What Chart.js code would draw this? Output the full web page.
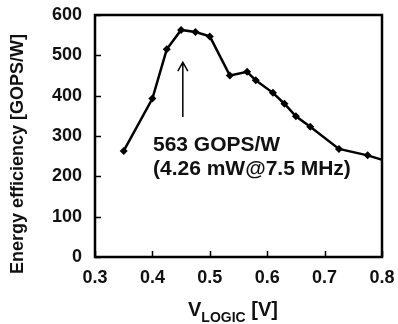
<!DOCTYPE html>
<html>
<head>
<meta charset="utf-8">
<script src="https://cdn.jsdelivr.net/npm/chart.js@4/dist/chart.umd.min.js"></script>
<style>
  html, body { margin: 0; padding: 0; background: #fff; }
  #wrap { width: 398px; height: 324px; }
</style>
</head>
<body>
<div id="wrap"><canvas id="effChart" width="398" height="324"></canvas></div>
<script>
// V_LOGIC sweep (V) and measured energy efficiency (GOPS/W)
const vLogic = [0.35, 0.40, 0.425, 0.45, 0.475, 0.50, 0.535, 0.565, 0.58, 0.61, 0.63, 0.65, 0.675, 0.725, 0.775, 0.83];
const efficiency = [263, 393, 515, 563, 558, 547, 450, 459, 438, 407, 380, 349, 323, 268, 252, 228];
const xTicks = [0.3, 0.4, 0.5, 0.6, 0.7, 0.8];
const yTicks = [0, 100, 200, 300, 400, 500, 600];
const noteLines = ['563 GOPS/W', '(4.26 mW@7.5 MHz)'];

const FONT = '"Liberation Sans", Arial, sans-serif';

const decorations = {
  id: 'decorations',
  afterDraw(chart) {
    const { ctx, chartArea: a, scales: { x, y } } = chart;
    ctx.save();
    ctx.strokeStyle = '#000';
    ctx.fillStyle = '#111';

    // inward tick marks
    ctx.lineWidth = 1.5;
    ctx.beginPath();
    xTicks.forEach(v => {
      const px = Math.round(x.getPixelForValue(v)) + 0.5;
      ctx.moveTo(px, a.bottom); ctx.lineTo(px, a.bottom - 6);
    });
    yTicks.forEach(v => {
      const py = Math.round(y.getPixelForValue(v)) + 0.5;
      ctx.moveTo(a.left, py); ctx.lineTo(a.left + 6, py);
    });
    ctx.stroke();

    // plot frame
    ctx.lineWidth = 2.5;
    ctx.strokeRect(a.left, a.top, a.right - a.left, a.bottom - a.top);

    // arrow pointing at the peak
    const ax = x.getPixelForValue(0.453);
    const ay0 = y.getPixelForValue(347);
    const ay1 = y.getPixelForValue(483);
    ctx.lineWidth = 1.5;
    ctx.beginPath();
    ctx.moveTo(ax, ay0); ctx.lineTo(ax, ay1);
    ctx.moveTo(ax - 5, ay1 + 9); ctx.lineTo(ax, ay1); ctx.lineTo(ax + 5, ay1 + 9);
    ctx.stroke();

    // annotation text
    ctx.font = 'bold 21px ' + FONT;
    ctx.textAlign = 'left';
    ctx.textBaseline = 'alphabetic';
    const tx = x.getPixelForValue(0.401);
    ctx.fillText(noteLines[0], tx, y.getPixelForValue(263));
    ctx.fillText(noteLines[1], tx, y.getPixelForValue(203));

    // y axis title
    ctx.save();
    ctx.translate(18, 154);
    ctx.rotate(-Math.PI / 2);
    ctx.textAlign = 'center';
    ctx.textBaseline = 'middle';
    ctx.font = 'bold 18px ' + FONT;
    ctx.fillText('Energy efficiency [GOPS/W]', 0, 0);
    ctx.restore();

    // x axis title with subscript
    const base = 316;
    ctx.textAlign = 'left';
    let cx = 188;
    ctx.font = 'bold 20px ' + FONT;
    ctx.fillText('V', cx, base);
    cx += ctx.measureText('V').width;
    ctx.font = 'bold 14px ' + FONT;
    ctx.fillText('LOGIC', cx, base + 6);
    cx += ctx.measureText('LOGIC').width;
    ctx.font = 'bold 20px ' + FONT;
    ctx.fillText(' [V]', cx, base);
    ctx.restore();
  }
};

new Chart(document.getElementById('effChart'), {
  type: 'line',
  data: {
    datasets: [{
      data: vLogic.map((v, i) => ({ x: v, y: efficiency[i] })),
      borderColor: '#000',
      backgroundColor: '#000',
      borderWidth: 2.5,
      pointStyle: 'rectRot',
      pointRadius: 4,
      pointBorderWidth: 0,
      tension: 0,
      fill: false
    }]
  },
  options: {
    responsive: false,
    animation: false,
    devicePixelRatio: 1,
    layout: { padding: { top: 15, right: 16, left: 0, bottom: 0 } },
    plugins: {
      legend: { display: false },
      tooltip: { enabled: false },
      title: { display: false }
    },
    scales: {
      x: {
        type: 'linear',
        min: 0.3,
        max: 0.8,
        border: { display: false },
        grid: { display: false, drawTicks: false },
        afterFit(scale) {
          scale.height = 67;
          scale.paddingLeft = 0;
          scale.paddingRight = 0;
        },
        afterBuildTicks(scale) { scale.ticks = xTicks.map(v => ({ value: v })); },
        ticks: {
          padding: 10,
          color: '#111',
          font: { family: FONT, size: 18, weight: 'bold' },
          callback: v => v.toFixed(1)
        }
      },
      y: {
        min: 0,
        max: 600,
        border: { display: false },
        grid: { display: false, drawTicks: false },
        afterFit(scale) {
          scale.width = 95;
          scale.paddingTop = 0;
          scale.paddingBottom = 0;
        },
        afterBuildTicks(scale) { scale.ticks = yTicks.map(v => ({ value: v })); },
        ticks: {
          padding: 13,
          color: '#111',
          font: { family: FONT, size: 18, weight: 'bold' }
        }
      }
    }
  },
  plugins: [decorations]
});
</script>
</body>
</html>
